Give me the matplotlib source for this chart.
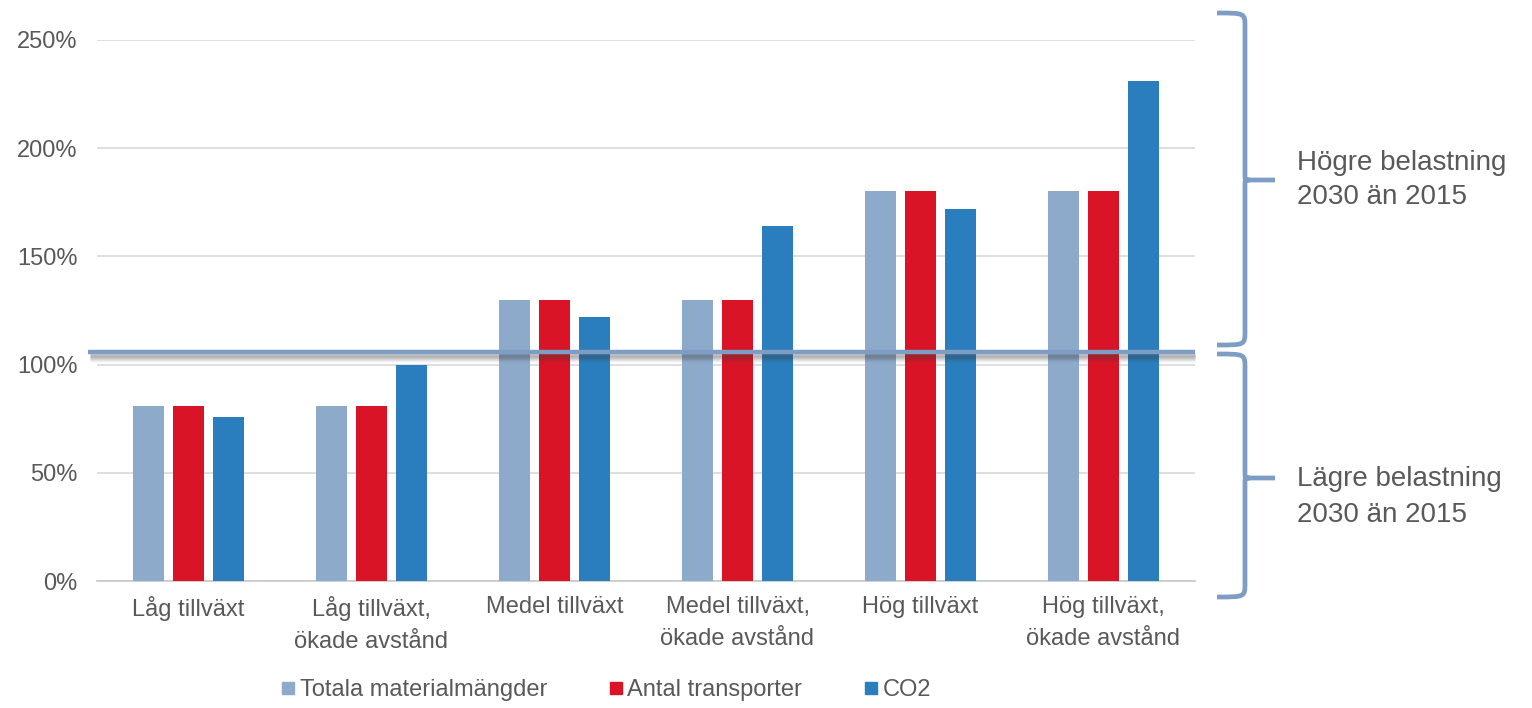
import matplotlib
matplotlib.use("Agg")
import matplotlib.pyplot as plt
import numpy as np
from matplotlib.path import Path
from matplotlib.patches import PathPatch
from matplotlib.lines import Line2D
import matplotlib.transforms as mtransforms

plt.rcParams['font.family'] = ['Liberation Sans', 'DejaVu Sans']

categories = ["Låg tillväxt", "Låg tillväxt,\nökade avstånd", "Medel tillväxt",
              "Medel tillväxt,\nökade avstånd", "Hög tillväxt", "Hög tillväxt,\nökade avstånd"]
series_names = ["Totala materialmängder", "Antal transporter", "CO2"]
totala = [81, 81, 130, 130, 180, 180]
transporter = [81, 81, 130, 130, 180, 180]
co2 = [76, 100, 122, 164, 172, 231]
yticks = [0, 50, 100, 150, 200, 250]
ytick_labels = ["0%", "50%", "100%", "150%", "200%", "250%"]
band_labels = ["Högre belastning\n2030 än 2015", "Lägre belastning\n2030 än 2015"]

colors = ["#8eaacb", "#d81426", "#2a7ebd"]
text_col = "#595959"
accent = "#7d9dc5"

W, H = 1532, 708
fig = plt.figure(figsize=(W / 100, H / 100), dpi=100)
ax = fig.add_axes([97 / W, 1 - 581 / H, (1195 - 97) / W, (581 - 40) / H])

x = np.arange(len(categories))
width = 0.17
step = 0.219
for i, (vals, col, name) in enumerate(zip([totala, transporter, co2], colors, series_names)):
    ax.bar(x + (i - 1) * step, vals, width=width, color=col, label=name, zorder=3)

ax.set_xlim(-0.5, len(categories) - 0.5)
ax.set_ylim(0, 250)
ax.set_yticks(yticks)
ax.set_yticklabels(ytick_labels)
ax.set_xticks(x)
ax.set_xticklabels(categories, linespacing=1.55)
ax.tick_params(axis='both', length=0, labelsize=17, colors=text_col)
ax.tick_params(axis='y', pad=14)
ax.tick_params(axis='x', pad=11)
ax.grid(axis='y', color="#d9d9d9", linewidth=1.2, zorder=0)
ax.set_axisbelow(True)
for s in ["top", "right", "left"]:
    ax.spines[s].set_visible(False)
ax.spines["bottom"].set_color("#c8c8c8")
ax.spines["bottom"].set_linewidth(1.2)

# Reference line between the two bands, with a soft shadow beneath
ref_y = 105.8
trans = mtransforms.blended_transform_factory(ax.transAxes, ax.transData)
for k, a in enumerate([0.11, 0.11, 0.10, 0.09, 0.07, 0.05, 0.03]):
    off = mtransforms.offset_copy(trans, fig=fig, x=0, y=-(2 + k) * 0.72, units='points')
    ax.plot([-0.006, 1.0], [ref_y, ref_y], color="#404040", alpha=a, linewidth=3.5,
            transform=off, clip_on=False, zorder=4, solid_capstyle='butt')
ax.plot([-0.008, 1.0], [ref_y, ref_y], color=accent, linewidth=3.2,
        transform=trans, clip_on=False, zorder=5, solid_capstyle='butt')


def brace(top, mid, bottom, xl=1217, xv=1245, xt=1275, r=14, rt=5):
    def p(px, py):
        return (px / W, 1 - py / H)
    verts = [p(xl, top), p(xv, top), p(xv, top), p(xv, top + r),
             p(xv, mid - rt),
             p(xv, mid), p(xv, mid), p(xv + rt, mid),
             p(xt, mid),
             p(xv + rt, mid), p(xv, mid), p(xv, mid), p(xv, mid + rt),
             p(xv, bottom - r),
             p(xv, bottom), p(xv, bottom), p(xl, bottom)]
    codes = [Path.MOVETO, Path.CURVE4, Path.CURVE4, Path.CURVE4,
             Path.LINETO,
             Path.CURVE4, Path.CURVE4, Path.CURVE4,
             Path.LINETO,
             Path.MOVETO, Path.CURVE4, Path.CURVE4, Path.CURVE4,
             Path.LINETO,
             Path.CURVE4, Path.CURVE4, Path.CURVE4]
    patch = PathPatch(Path(verts, codes), transform=fig.transFigure, fill=False,
                      edgecolor=accent, linewidth=3.4, capstyle='butt')
    fig.add_artist(patch)


brace(13, 180, 345)
brace(354, 478, 597)

fig.text(1297 / W, 1 - 180 / H, band_labels[0], fontsize=20, color=text_col,
         va='center', ha='left', linespacing=1.45)
fig.text(1297 / W, 1 - 497 / H, band_labels[1], fontsize=20, color=text_col,
         va='center', ha='left', linespacing=1.45)

handles = [Line2D([], [], marker='s', linestyle='none', markersize=9,
                  markerfacecolor=c, markeredgecolor=c) for c in colors]
fig.legend(handles, series_names, loc='center', bbox_to_anchor=(606 / W, 1 - 690 / H),
           ncol=3, frameon=False, fontsize=17, labelcolor=text_col,
           handlelength=0.6, handletextpad=0.2, columnspacing=2.6)

fig.savefig("out.png", dpi=100)
